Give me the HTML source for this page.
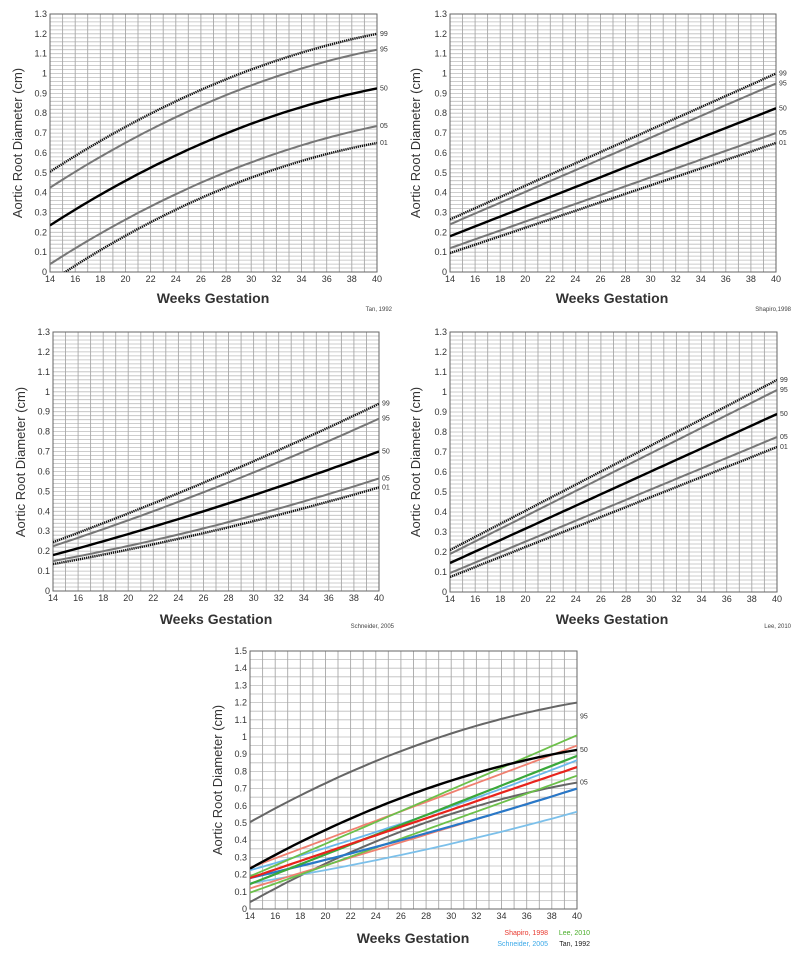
<!DOCTYPE html>
<html><head><meta charset="utf-8"><style>
html,body{margin:0;padding:0;background:#fff;}
svg{display:block;font-family:"Liberation Sans",sans-serif;}
</style></head><body>
<svg id="s" width="800" height="960" xmlns="http://www.w3.org/2000/svg"></svg>
<script>
const S=document.getElementById('s');let h='';
function q(p,x){const[a,b,c]=p;if(p.length==2){return a+(b-a)*(x-14)/26;}
 const t=(x-14)/26;return a*(1-t)*(1-2*t)+ b*4*t*(1-t) + c*t*(2*t-1);}
function chart(o){
 const {x0,x1,y0,yt,ymax,minor,curves,tlx,tly,xtx,xty,cit,citx,city,plabels}=o;
 const sx=v=>x0+(v-14)*(x1-x0)/26, sy=v=>y0-(v)*(y0-yt)/ymax;
 h+=`<rect x="${x0}" y="${yt}" width="${x1-x0}" height="${y0-yt}" fill="#fff"/>`;
 for(let v=minor;v<ymax-1e-6;v+=minor){const y=sy(v).toFixed(1);h+=`<line x1="${x0}" x2="${x1}" y1="${y}" y2="${y}" stroke="#bdbdbd" stroke-width="0.8"/>`;}
 for(let w=15;w<40;w++){const x=sx(w).toFixed(1);h+=`<line x1="${x}" x2="${x}" y1="${yt}" y2="${y0}" stroke="#a8a8a8" stroke-width="0.9"/>`;}
 h+=`<rect x="${x0}" y="${yt}" width="${x1-x0}" height="${y0-yt}" fill="none" stroke="#666" stroke-width="1"/>`;
 for(let v=0;v<=ymax+1e-6;v+=0.1){const y=sy(v);let t=(Math.round(v*10)/10).toString();h+=`<text x="${x0-3}" y="${(y+3).toFixed(1)}" font-size="9" text-anchor="end" fill="#333">${t}</text>`;}
 for(let w=14;w<=40;w+=2){h+=`<text x="${sx(w).toFixed(1)}" y="${y0+10}" font-size="9" text-anchor="middle" fill="#333">${w}</text>`;}
 h+=`<defs><clipPath id="c${x0}_${y0}"><rect x="${x0}" y="${yt}" width="${x1-x0}" height="${y0-yt}"/></clipPath></defs><g clip-path="url(#c${x0}_${y0})">`;
 for(const c of curves){let d='';for(let x=14;x<=40.001;x+=0.5){d+=(d?'L':'M')+sx(x).toFixed(1)+','+sy(q(c.p,x)).toFixed(1);}
  h+=`<path d="${d}" fill="none" stroke="${c.col}" stroke-width="${c.w}" ${c.dash?'stroke-dasharray="1.3 0.8"':''}/>`;}
 h+='</g>';
 for(const [t,v] of plabels){h+=`<text x="${x1+3}" y="${(sy(v)+2).toFixed(1)}" font-size="7" fill="#333">${t}</text>`;}
 h+=`<text transform="translate(${tlx},${tly}) rotate(-90)" font-size="13" text-anchor="middle" fill="#333">Aortic Root  Diameter  (cm)</text>`;
 h+=`<text x="${xtx}" y="${xty}" font-size="14" font-weight="bold" text-anchor="middle" fill="#333">Weeks Gestation</text>`;
 if(cit)h+=`<text x="${citx}" y="${city}" font-size="6" text-anchor="end" fill="#444">${cit}</text>`;
}
function five(p){return[{p:p[0],col:'#111',w:2.4,dash:1},{p:p[1],col:'#777',w:2},{p:p[2],col:'#000',w:2.4},{p:p[3],col:'#777',w:2},{p:p[4],col:'#111',w:2.4,dash:1}];}
function pl(p){return[['99',p[0].at(-1)],['95',p[1].at(-1)],['50',p[2].at(-1)],['05',p[3].at(-1)],['01',p[4].at(-1)]];}
const tan=[[.505,.945,1.2],[.425,.865,1.12],[.235,.672,.925],[.04,.477,.735],[-.05,.40,.65]];
const sha=[[.265,1.0],[.24,.95],[.18,.825],[.12,.70],[.095,.65]];
const sch=[[.245,.57,.94],[.225,.52,.865],[.18,.42,.70],[.15,.33,.565],[.135,.305,.52]];
const lee=[[.21,1.06],[.19,1.01],[.145,.89],[.095,.775],[.075,.725]];
chart({x0:50,x1:377,y0:272,yt:14,ymax:1.3,minor:0.02,curves:five(tan),plabels:pl(tan),tlx:22,tly:143,xtx:213,xty:303,cit:'Tan, 1992',citx:392,city:311});
chart({x0:450,x1:776,y0:272,yt:14,ymax:1.3,minor:0.02,curves:five(sha),plabels:pl(sha),tlx:420,tly:143,xtx:612,xty:303,cit:'Shapiro,1998',citx:791,city:311});
chart({x0:53,x1:379,y0:591,yt:332,ymax:1.3,minor:0.02,curves:five(sch),plabels:pl(sch),tlx:25,tly:462,xtx:216,xty:624,cit:'Schneider, 2005',citx:394,city:628});
chart({x0:450,x1:777,y0:592,yt:332,ymax:1.3,minor:0.02,curves:five(lee),plabels:pl(lee),tlx:420,tly:462,xtx:612,xty:624,cit:'Lee, 2010',citx:791,city:628});
const B=[
 {p:tan[0],col:'#666',w:2},{p:tan[3],col:'#666',w:2},
 {p:sch[3],col:'#7cc0ea',w:1.8},{p:sch[1],col:'#6ab8ec',w:1.8},
 {p:sha[1],col:'#f08070',w:1.8},{p:sha[3],col:'#f08070',w:1.8},
 {p:lee[1],col:'#6cc04a',w:1.8},{p:lee[3],col:'#6cc04a',w:1.8},
 {p:sch[2],col:'#2878c8',w:2.2},{p:lee[2],col:'#3aa83a',w:2.2},{p:sha[2],col:'#e8231c',w:2.2},
 {p:tan[2],col:'#000',w:2.4}];
chart({x0:250,x1:577,y0:909,yt:651,ymax:1.5,minor:0.05,curves:B,plabels:[['95',1.12],['50',.925],['05',.735]],tlx:222,tly:780,xtx:413,xty:943,cit:'',citx:0,city:0});
h+=`<text x="548" y="935" font-size="7" text-anchor="end" fill="#e83a30">Shapiro, 1998</text>`;
h+=`<text x="590" y="935" font-size="7" text-anchor="end" fill="#4aae2a">Lee, 2010</text>`;
h+=`<text x="548" y="946" font-size="7" text-anchor="end" fill="#3aa8e8">Schneider, 2005</text>`;
h+=`<text x="590" y="946" font-size="7" text-anchor="end" fill="#222">Tan, 1992</text>`;
S.innerHTML=h;
</script>
</body></html>
